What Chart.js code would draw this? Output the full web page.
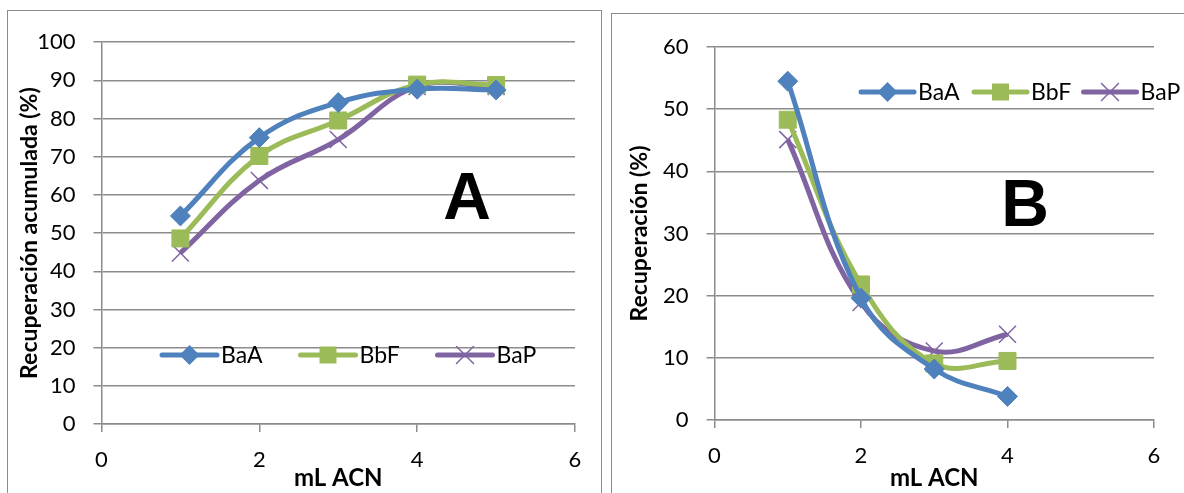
<!DOCTYPE html>
<html>
<head>
<meta charset="utf-8">
<script src="https://cdn.jsdelivr.net/npm/chart.js@4/dist/chart.umd.min.js"></script>
<style>
  html, body { margin: 0; padding: 0; background: #fff; }
  body { width: 1184px; height: 493px; position: relative; overflow: hidden; }
  .panel { position: absolute; border: 1.5px solid #8c8c8c; border-bottom: none; box-sizing: border-box; }
  #panelA { left: 7px; top: 10px; width: 595px; height: 490px; }
  #panelB { left: 611px; top: 13px; width: 590px; height: 490px; }
  canvas { position: absolute; }
</style>
</head>
<body>
<div class="panel" id="panelA"></div>
<div class="panel" id="panelB"></div>
<canvas id="chartA" style="left:8px; top:11px;" width="592" height="482"></canvas>
<canvas id="chartB" style="left:612px; top:14px;" width="572" height="479"></canvas>
<script>
// x values (mL ACN)
const xValuesA = [1, 2, 3, 4, 5];
const xValuesB = [1, 2, 3, 4];
const seriesNames = ['BaA', 'BbF', 'BaP'];

// Panel A: cumulative recovery (%)
const accumBaA = [54.5, 75, 84.2, 87.7, 87.5];
const accumBbF = [48.6, 70.2, 79.5, 88.9, 88.8];
const accumBaP = [44.8, 63.8, 74.5, 88.4, 88.4];

// Panel B: recovery per fraction (%)
const stepBaA = [54.5, 19.6, 8.2, 3.8];
const stepBbF = [48.3, 21.8, 9.1, 9.5];
const stepBaP = [45.1, 18.9, 11.1, 13.8];

// tick labels
const xTicks = [0, 2, 4, 6];
const yTicksA = [0, 10, 20, 30, 40, 50, 60, 70, 80, 90, 100];
const yTicksB = [0, 10, 20, 30, 40, 50, 60];

const COLORS = ['#4f81bd', '#9bbb59', '#8064a2'];
const STYLES = [
  { pointStyle: 'rectRot', pointRadius: 10, pointBorderWidth: 1 },
  { pointStyle: 'rect', pointRadius: 12, pointBorderWidth: 1 },
  { pointStyle: 'crossRot', pointRadius: 12, pointBorderWidth: 1.5 }
];
const GRID = '#8c8c8c';
const FONT = "Lato, 'Open Sans', sans-serif";

function buildDatasets(xs, seriesList) {
  return seriesList.map((vals, i) => ({
    label: seriesNames[i],
    data: xs.map((x, k) => ({ x: x, y: vals[k] })),
    borderColor: COLORS[i],
    backgroundColor: COLORS[i],
    pointBackgroundColor: COLORS[i],
    pointBorderColor: COLORS[i],
    borderWidth: 5,
    tension: 0.4,
    pointStyle: STYLES[i].pointStyle,
    pointRadius: STYLES[i].pointRadius,
    pointBorderWidth: STYLES[i].pointBorderWidth,
    clip: false
  }));
}

function drawMarker(ctx, style, r, bw, color, x, y) {
  ctx.save();
  ctx.fillStyle = color;
  ctx.strokeStyle = color;
  ctx.lineWidth = bw;
  ctx.beginPath();
  if (style === 'rectRot') {
    ctx.moveTo(x, y - r); ctx.lineTo(x + r, y); ctx.lineTo(x, y + r); ctx.lineTo(x - r, y);
    ctx.closePath(); ctx.fill();
  } else if (style === 'rect') {
    const s = r * Math.SQRT1_2;
    ctx.rect(x - s, y - s, 2 * s, 2 * s); ctx.fill();
  } else {
    const s = r * Math.SQRT1_2;
    ctx.moveTo(x - s, y - s); ctx.lineTo(x + s, y + s);
    ctx.moveTo(x + s, y - s); ctx.lineTo(x - s, y + s);
    ctx.stroke();
  }
  ctx.restore();
}

// legend inside the plot plus the big panel letter
const insideLegend = {
  id: 'insideLegend',
  afterDatasetsDraw(chart, args, opts) {
    const ctx = chart.ctx;
    ctx.save();
    chart.data.datasets.forEach((ds, i) => {
      const mx = opts.markers[i];
      ctx.strokeStyle = ds.borderColor;
      ctx.lineWidth = ds.borderWidth;
      ctx.lineCap = 'round';
      ctx.beginPath();
      ctx.moveTo(mx - opts.half, opts.y);
      ctx.lineTo(mx + opts.half, opts.y);
      ctx.stroke();
      drawMarker(ctx, ds.pointStyle, ds.pointRadius, ds.pointBorderWidth, ds.borderColor, mx, opts.y);
      ctx.fillStyle = '#000';
      ctx.font = '23px ' + FONT;
      ctx.textBaseline = 'middle';
      ctx.textAlign = 'left';
      ctx.fillText(ds.label, mx + opts.half + 4, opts.y + 1);
    });
    ctx.font = "bold 66px 'Liberation Sans', Arial, sans-serif";
    ctx.textAlign = 'center';
    ctx.textBaseline = 'middle';
    ctx.fillStyle = '#000';
    ctx.fillText(opts.letter, opts.letterX, opts.letterY);
    ctx.restore();
  }
};

function makeChart(id, xs, series, yTicks, yTitle, box, legend) {
  const ctx = document.getElementById(id).getContext('2d');
  return new Chart(ctx, {
    type: 'line',
    data: { datasets: buildDatasets(xs, series) },
    plugins: [insideLegend],
    options: {
      responsive: false,
      animation: false,
      layout: { padding: { top: box.top, right: box.right, left: 0, bottom: 0 } },
      plugins: {
        legend: { display: false },
        tooltip: { enabled: false },
        insideLegend: legend
      },
      scales: {
        x: {
          type: 'linear',
          min: xTicks[0],
          max: xTicks[xTicks.length - 1],
          afterBuildTicks: (s) => { s.ticks = xTicks.map(v => ({ value: v })); },
          afterFit: (s) => { s.height = box.xHeight; },
          grid: { drawOnChartArea: false, color: GRID, lineWidth: 1.5, tickLength: 8 },
          border: { color: GRID, width: 1.5 },
          ticks: { color: '#000', font: { family: FONT, size: 22 }, padding: 15, maxRotation: 0 },
          title: {
            display: true, text: 'mL ACN', color: '#000',
            font: { family: FONT, size: 24, weight: 'bold' },
            padding: { top: 0, bottom: 0 }
          }
        },
        y: {
          min: yTicks[0],
          max: yTicks[yTicks.length - 1],
          afterBuildTicks: (s) => { s.ticks = yTicks.map(v => ({ value: v })); },
          afterFit: (s) => { s.width = box.yWidth; },
          grid: { color: GRID, lineWidth: 1.5, tickLength: 8 },
          border: { color: GRID, width: 1.5 },
          ticks: { color: '#000', font: { family: FONT, size: 22 }, padding: 18 },
          title: {
            display: true, text: yTitle, color: '#000',
            font: { family: FONT, size: 23, weight: 'bold' },
            padding: { top: box.titlePad, bottom: 0 }
          }
        }
      }
    }
  });
}

makeChart('chartA', xValuesA, [accumBaA, accumBbF, accumBaP], yTicksA,
  'Recuperación acumulada (%)',
  { top: 30, right: 25, xHeight: 69, yWidth: 93.5, titlePad: 8 },
  { y: 344, half: 27.5, markers: [181.5, 320, 457], letter: 'A', letterX: 459, letterY: 190 });

makeChart('chartB', xValuesB, [stepBaA, stepBbF, stepBaP], yTicksB,
  'Recuperación (%)',
  { top: 33, right: 30, xHeight: 73, yWidth: 102.5, titlePad: 14 },
  { y: 78, half: 26.5, markers: [275.5, 388.5, 498], letter: 'B', letterX: 413, letterY: 194 });
</script>
</body>
</html>
